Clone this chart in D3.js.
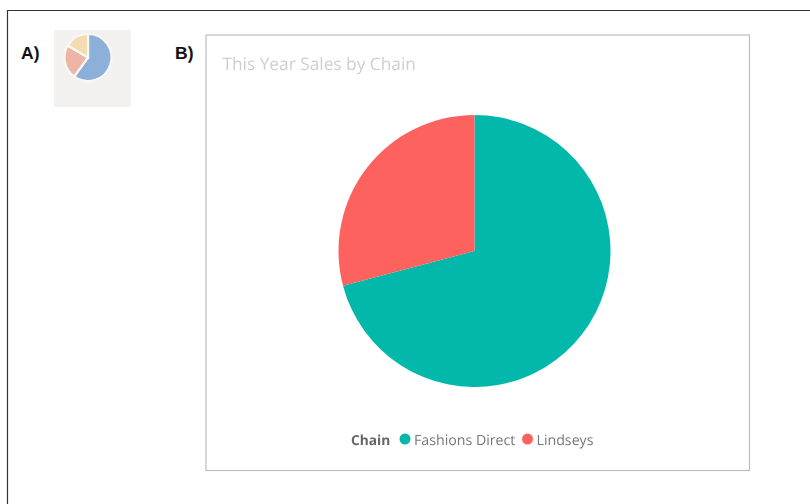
<!DOCTYPE html>
<html>
<head>
<meta charset="utf-8">
<script src="https://cdn.jsdelivr.net/npm/d3@7"></script>
<style>
html,body{margin:0;padding:0;background:#fff;overflow:hidden}
svg{display:block}
text{text-rendering:geometricPrecision}
</style>
</head>
<body>
<svg id="c" width="810" height="504"></svg>
<script>
const mainCategories = ["Fashions Direct", "Lindseys"];
const mainValues = [70.9, 29.1];
const mainColors = ["#01B8AA", "#FD625E"];
const iconValues = [60, 23.5, 16.5];
const iconColors = ["#8DB0D8", "#EDB5A6", "#F3DDB0"];
const chartTitle = "This Year Sales by Chain";
const legendTitle = "Chain";
const panelLabels = ["A)", "B)"];

const svg = d3.select("#c");
const uiFont = "'Open Sans', 'Noto Sans', sans-serif";
const defs = svg.append("defs");
defs.append("filter").attr("id", "soft").append("feGaussianBlur").attr("stdDeviation", 0.45);
defs.append("filter").attr("id", "softIcon").append("feGaussianBlur").attr("stdDeviation", 0.6);

// outer frame (top and left edges only)
svg.append("path").attr("d", d3.line()([[7.5, 504], [7.5, 10.5], [810, 10.5]]))
  .attr("fill", "none").attr("stroke", "#333").attr("stroke-width", 1.2);

// panel labels
svg.selectAll("text.panel").data(panelLabels).join("text").attr("class", "panel")
  .attr("x", (d, i) => [21, 175][i]).attr("y", 59)
  .attr("font-family", "'Liberation Sans', Arial, sans-serif")
  .attr("font-weight", "bold").attr("font-size", 17.5).attr("fill", "#111").text(d => d);

// icon
svg.append("rect").attr("x", 54).attr("y", 30).attr("width", 77).attr("height", 77).attr("fill", "#F2F1EF");
const pie = d3.pie().sort(null).value(d => d);
const iconG = svg.append("g").attr("transform", "translate(88,57.5)").attr("filter", "url(#softIcon)");
const iconArc = d3.arc().innerRadius(0).outerRadius(23.5);
iconG.selectAll("path").data(pie(iconValues)).join("path")
  .attr("d", iconArc).attr("fill", (d, i) => iconColors[i])
  .attr("stroke", "#F8F7F5").attr("stroke-width", 2.2);

// main card
svg.append("rect").attr("x", 206).attr("y", 35).attr("width", 543.5).attr("height", 435.5)
  .attr("fill", "#fff").attr("stroke", "#BDBDBD").attr("stroke-width", 1.2);

svg.append("text").attr("x", 222.5).attr("y", 70)
  .attr("font-family", uiFont).attr("font-size", 17.3).attr("fill", "#CFCFCF")
  .attr("filter", "url(#soft)").text(chartTitle);

// main pie
const mainArc = d3.arc().innerRadius(0).outerRadius(136);
svg.append("g").attr("transform", "translate(474.5,251)")
  .selectAll("path").data(pie(mainValues)).join("path")
  .attr("d", mainArc).attr("fill", (d, i) => mainColors[i]);

// legend
const leg = svg.append("g").attr("font-family", uiFont).attr("font-size", 14.2).attr("filter", "url(#soft)");
leg.append("text").attr("x", 351).attr("y", 445).attr("font-size", 13.7).attr("font-weight", "bold").attr("fill", "#666").text(legendTitle);
const swatchX = d3.scaleOrdinal().domain(mainCategories).range([405, 527.5]);
leg.selectAll("circle").data(mainCategories).join("circle")
  .attr("cx", d => swatchX(d)).attr("cy", 439).attr("r", 5.5)
  .attr("fill", (d, i) => mainColors[i]);
leg.selectAll("text.item").data(mainCategories).join("text").attr("class", "item")
  .attr("x", d => swatchX(d) + 9).attr("y", 445).attr("fill", "#777").text(d => d);
</script>
</body>
</html>
